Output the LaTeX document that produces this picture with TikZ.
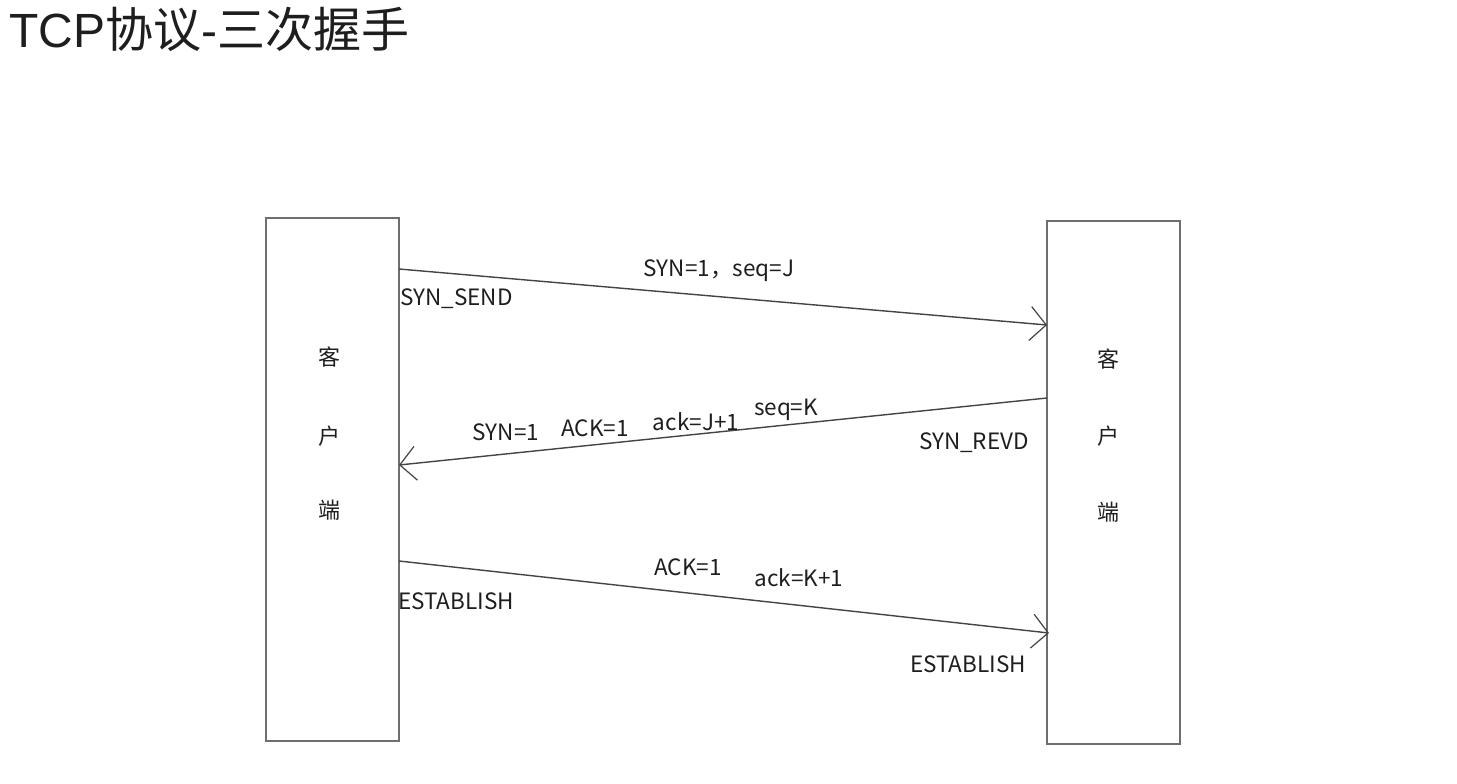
\documentclass[tikz,border=0pt]{standalone}
\usepackage{fontspec}
\setmainfont{Noto Sans CJK SC}
\newfontfamily\titlelat{Liberation Sans}
\newfontfamily\cjk{Noto Sans CJK SC}
\usetikzlibrary{arrows.meta}
\definecolor{boxgray}{HTML}{6E6E6E}
\definecolor{linegray}{HTML}{444444}
\definecolor{txt}{HTML}{1E1E1E}
\tikzset{
  hostbox/.style={draw=boxgray, line width=2pt, minimum width=133pt, minimum height=523pt, inner sep=0pt},
  msg/.style={draw=linegray, line width=1.4pt, -{Straight Barb[length=16pt,width=34pt,line width=1.2pt]}},
  lbl/.style={font=\fontsize{22.5}{26}\selectfont, text=txt, inner sep=0pt},
  han/.style={font=\cjk\fontsize{22}{25}\selectfont, text=txt, inner sep=0pt},
}
\begin{document}
\begin{tikzpicture}[x=1pt,y=-1pt]
\useasboundingbox (0,0) rectangle (1457,784);
\fill[white] (0,0) rectangle (1457,784);
\node[anchor=west, inner sep=0pt, text=txt, font=\fontsize{48}{52}\selectfont] (title) at (9,29) {{\titlelat TCP}{\cjk 协议}{\titlelat -}{\cjk 三次握手}};
\node[hostbox] (L) at (332.5,479.5) {};
\node[hostbox] (R) at (1113,482.5) {};
\node[han] (l1) at (329,357) {客};
\node[han] (l2) at (329,436) {户};
\node[han] (l3) at (329,510) {端};
\node[han] (r1) at (1108,359) {客};
\node[han] (r2) at (1108,436) {户};
\node[han] (r3) at (1108,512) {端};
\coordinate (a1s) at (399,269);
\coordinate (a1e) at (1047,325);
\coordinate (a2s) at (1047,398);
\coordinate (a2e) at (399,465);
\coordinate (a3s) at (399,561);
\coordinate (a3e) at (1049,633);
\draw[msg] (a1s) -- (a1e);
\draw[msg] (a2s) -- (a2e);
\draw[msg] (a3s) -- (a3e);
\node[lbl] (m1) at (719,271) {SYN=1，seq=J};
\node[lbl, anchor=west] (s1) at (400,299) {SYN\_SEND};
\node[lbl] (m2a) at (506,432) {SYN=1};
\node[lbl] (m2b) at (595,428) {ACK=1};
\node[lbl] (m2c) at (696,422) {ack=J+1};
\node[lbl] (m2d) at (786,410) {seq=K};
\node[lbl] (s2) at (974,443) {SYN\_REVD};
\node[lbl] (m3a) at (688,567) {ACK=1};
\node[lbl] (m3b) at (799,578) {ack=K+1};
\node[lbl, anchor=west] (s3) at (398,601) {ESTABLISH};
\node[lbl] (s4) at (968,664) {ESTABLISH};
\end{tikzpicture}
\end{document}
